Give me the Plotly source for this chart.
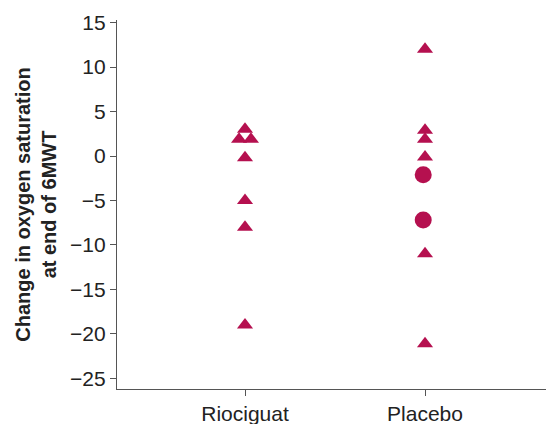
import plotly.graph_objects as go

categories = ["Riociguat", "Placebo"]

# Riociguat group
rio_tri_y = [3, 1.9, 1.9, -0.2, -5, -8, -19]
rio_tri_jitter = [0, -0.033, 0.033, 0, 0, 0, 0]

# Placebo group
pla_tri_y = [12, 2.9, 1.9, -0.1, -11, -21.1]
pla_tri_jitter = [0, 0, 0, 0, 0, 0]
pla_circ_y = [-2.1, -7.2]
pla_circ_jitter = [-0.01, -0.01]

yticks = [15, 10, 5, 0, -5, -10, -15, -20, -25]

color = "#B5104F"

fig = go.Figure()
fig.add_trace(go.Scatter(
    x=[0 + j for j in rio_tri_jitter], y=rio_tri_y, mode="markers",
    marker=dict(symbol="triangle-up", size=14, color=color, line=dict(width=0)),
    showlegend=False))
fig.add_trace(go.Scatter(
    x=[1 + j for j in pla_tri_jitter], y=pla_tri_y, mode="markers",
    marker=dict(symbol="triangle-up", size=14, color=color, line=dict(width=0)),
    showlegend=False))
fig.add_trace(go.Scatter(
    x=[1 + j for j in pla_circ_jitter], y=pla_circ_y, mode="markers",
    marker=dict(symbol="circle", size=17, color=color, line=dict(width=0)),
    showlegend=False))

fig.update_layout(
    width=546, height=424,
    margin=dict(l=117, r=0, t=20, b=35),
    paper_bgcolor="white", plot_bgcolor="white",
    font=dict(family="Liberation Sans, Arial, sans-serif", size=21, color="#222"),
    xaxis=dict(
        range=[-0.711, 1.672], tickvals=[0, 1], ticktext=categories,
        showgrid=False, zeroline=False, showline=True, linecolor="#555", linewidth=1.2,
        ticks="outside", ticklen=6, tickcolor="#555", tickwidth=1.2,
        tickfont=dict(size=21, color="#222"), automargin=False,
    ),
    yaxis=dict(
        range=[-26.2, 15.3], tickvals=yticks,
        showgrid=False, zeroline=False, showline=True, linecolor="#555", linewidth=1.2,
        ticks="outside", ticklen=6, tickcolor="#555", tickwidth=1.2,
        tickfont=dict(size=21, color="#222"), automargin=False,
        title=dict(text="<b>Change in oxygen saturation<br>at end of 6MWT</b>",
                   font=dict(size=20, color="#222"), standoff=8),
    ),
)

fig.write_html("out.html", config={"displayModeBar": False},
               post_script="document.body.style.margin='0px';")
